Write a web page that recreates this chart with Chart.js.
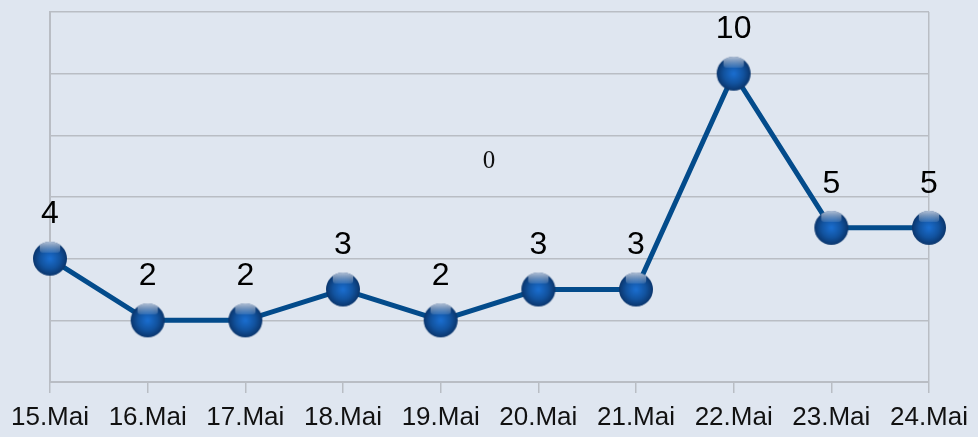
<!DOCTYPE html>
<html>
<head>
<meta charset="utf-8">
<script src="https://cdn.jsdelivr.net/npm/chart.js@4"></script>
<style>
  html, body { margin: 0; padding: 0; background: #dfe6f0; }
  #wrap { width: 978px; height: 437px; }
</style>
</head>
<body>
<div id="wrap"><canvas id="lineChart" width="978" height="437"></canvas></div>
<script>
const days = ['15.Mai', '16.Mai', '17.Mai', '18.Mai', '19.Mai', '20.Mai', '21.Mai', '22.Mai', '23.Mai', '24.Mai'];
const counts = [4, 2, 2, 3, 2, 3, 3, 10, 5, 5];
const strayText = '0';

const gridColor = '#b9bdc4';
const lineColor = '#034b8b';

// little shaded ball used as point marker
function makeBall(r) {
    const c = document.createElement('canvas');
    c.width = r * 2 + 2;
    c.height = r * 2 + 2;
    const g = c.getContext('2d');
    const cx = r + 1, cy = r + 1;
    const grad = g.createRadialGradient(cx, cy, 1, cx, cy, r);
    grad.addColorStop(0, '#1a6ccc');
    grad.addColorStop(0.55, '#12539f');
    grad.addColorStop(1, '#0a356c');
    g.fillStyle = grad;
    g.beginPath();
    g.arc(cx, cy, r, 0, Math.PI * 2);
    g.fill();
    // highlight band on top, clipped to the ball
    g.save();
    g.beginPath();
    g.arc(cx, cy, r, 0, Math.PI * 2);
    g.clip();
    const hl = g.createLinearGradient(0, cy - r, 0, cy - r * 0.35);
    hl.addColorStop(0, 'rgba(235,240,250,0.75)');
    hl.addColorStop(1, 'rgba(200,215,235,0.15)');
    g.fillStyle = hl;
    g.beginPath();
    g.roundRect(cx - r * 0.6, cy - r, r * 1.2, r * 0.65, 3);
    g.fill();
    g.restore();
    return c;
}
const ball = makeBall(17);

const bgPlugin = {
    id: 'bg',
    beforeDraw(chart) {
        const c = chart.ctx;
        c.save();
        c.fillStyle = '#dfe6f0';
        c.fillRect(0, 0, chart.width, chart.height);
        c.restore();
    }
};

const labelPlugin = {
    id: 'valueLabels',
    afterDatasetsDraw(chart) {
        const c = chart.ctx;
        const meta = chart.getDatasetMeta(0);
        c.save();
        c.fillStyle = '#000';
        c.font = '32px "Liberation Sans", Arial, sans-serif';
        c.textAlign = 'center';
        c.textBaseline = 'middle';
        meta.data.forEach((pt, i) => {
            c.fillText(String(counts[i]), pt.x, pt.y - 44);
        });
        // leftover text in the middle of the plot
        c.fillStyle = '#111';
        c.font = '25px "Liberation Serif", "DejaVu Serif", serif';
        c.fillText(strayText, 489, 161);
        c.restore();
    }
};

const ctx = document.getElementById('lineChart').getContext('2d');
let lineChart = new Chart(ctx, {
    type: 'line',
    data: {
        labels: days,
        datasets: [{
            data: counts,
            borderColor: lineColor,
            borderWidth: 5,
            pointStyle: ball,
            pointRadius: 17,
            pointHoverRadius: 17,
            tension: 0,
            clip: false
        }]
    },
    options: {
        responsive: false,
        animation: false,
        events: [],
        layout: { autoPadding: false, padding: { left: 0, right: 49, top: 12, bottom: 0 } },
        plugins: {
            legend: { display: false },
            tooltip: { enabled: false }
        },
        scales: {
            x: {
                offset: false,
                border: { display: true, color: gridColor, width: 2 },
                grid: {
                    drawOnChartArea: true,
                    color: (c) => c.index === days.length - 1 ? gridColor : 'rgba(0,0,0,0)',
                    tickColor: gridColor,
                    tickLength: 11,
                    lineWidth: 1.5
                },
                ticks: {
                    color: '#111',
                    font: { family: '"Liberation Sans", Arial, sans-serif', size: 26 },
                    padding: 9,
                    maxRotation: 0,
                    autoSkip: false
                },
                afterFit(scale) {
                    scale.paddingLeft = 0;
                    scale.paddingRight = 0;
                    scale.paddingTop = 0;
                    scale.paddingBottom = 0;
                    scale.height = 55;
                }
            },
            y: {
                min: 0,
                max: 12,
                border: { display: true, color: gridColor, width: 2 },
                grid: { color: gridColor, lineWidth: 1.5, drawTicks: false },
                ticks: { display: false, stepSize: 2 },
                afterFit(scale) {
                    scale.paddingTop = 0;
                    scale.paddingBottom = 0;
                    scale.width = 50;
                }
            }
        }
    },
    plugins: [bgPlugin, labelPlugin]
});
</script>
</body>
</html>
